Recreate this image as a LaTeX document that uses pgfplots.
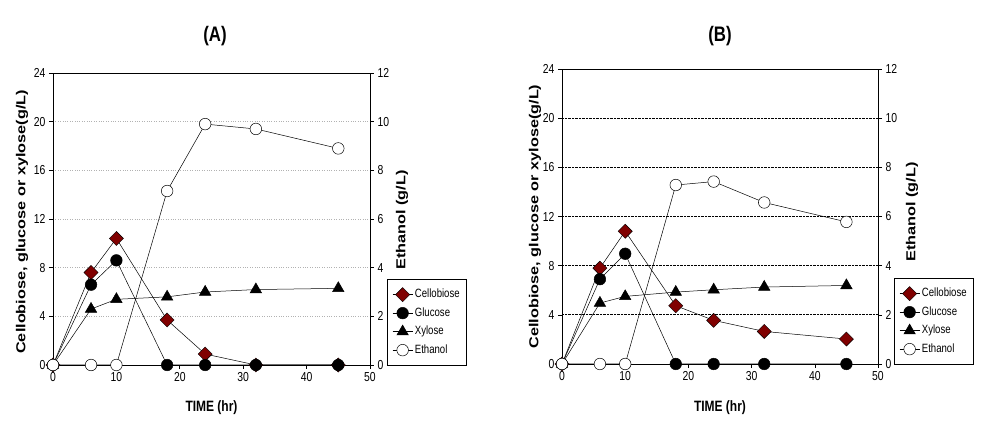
\documentclass[border=0pt]{standalone}
\usepackage{pgfplots}
\pgfplotsset{compat=1.18}
\usepackage{fontspec}
\setmainfont{Liberation Sans}
\newfontfamily\nar{Liberation Sans}[FakeStretch=0.8]
\newfontfamily\wid{Liberation Sans}[FakeStretch=1.25]
\definecolor{cello}{RGB}{128,0,0}

\pgfplotsset{
  base/.style={scale only axis, xmin=0, xmax=50, clip=false,
    tick align=outside, major tick length=4pt,
    /pgf/number format/assume math mode=true,
    tick label style={font=\nar\fontsize{13}{13}\selectfont},
    axis line style={line width=0.8pt},
    tick style={line width=0.6pt, black}},
  ser/.style={black, line width=0.5pt},
  celm/.style={ser, mark=square*, mark size=5pt, mark options={rotate=45, fill=cello, draw=black, line width=0.4pt}},
  glum/.style={ser, mark=*, mark size=5.8pt, mark options={fill=black}},
  xylm/.style={ser, mark=triangle*, mark size=6.6pt, mark options={fill=black}},
  ethm/.style={ser, mark=*, mark size=5.8pt, mark options={fill=white, draw=black}},
  leg/.style={legend cell align=left,
    legend image code/.code={\draw[mark repeat=2,mark phase=2] plot coordinates {(0pt,0pt) (10pt,0pt) (20pt,0pt)};},
    legend style={anchor=north west, draw=black, line width=0.8pt,
      font=\nar\fontsize{12}{12}\selectfont, inner xsep=5pt, inner ysep=8pt, row sep=4pt,
      nodes={inner sep=2pt, text height=8.5pt, text depth=2pt}}},
  xlab/.style={xlabel={TIME (hr)}, xlabel style={font=\nar\bfseries\fontsize{15}{15}\selectfont, anchor=center}},
  ylabL/.style={ylabel={Cellobiose, glucose or xylose(g/L)}, ylabel style={font=\wid\bfseries\fontsize{13}{13}\selectfont, anchor=center}},
  ylabR/.style={ylabel={Ethanol (g/L)}, ylabel style={font=\wid\bfseries\fontsize{13}{13}\selectfont, anchor=center}},
  ttl/.style={title style={font=\nar\bfseries\fontsize{21}{21}\selectfont, anchor=center}},
}

\begin{document}
\begin{tikzpicture}
\path[use as bounding box] (0pt,0pt) rectangle (989pt,422pt);

% ---------------- Panel A ----------------
\begin{axis}[base, at={(53pt,57pt)}, anchor=south west, width=317pt, height=292pt,
  ymin=0, ymax=24, ytick={0,4,...,24}, xtick={0,10,...,50},
  xtick pos=left, ytick pos=left,
  ymajorgrids, grid style={dotted, gray!60, line width=0.6pt},
  xlab, xlabel style={at={(axis description cs:0.5,-0.147)}},
  ylabL, ylabel style={at={(axis description cs:-0.098,0.49)}},
  ttl, title={(A)}, title style={at={(axis description cs:0.511,1.106)}}]
\addplot[xylm] coordinates {(0,0) (6,4.6) (10,5.4) (18,5.6) (24,6.0) (32,6.2) (45,6.3)};
\addplot[celm] coordinates {(0,0) (6,7.6) (10,10.4) (18,3.7) (24,0.9) (32,0) (45,0)};
\addplot[glum] coordinates {(0,0) (6,6.6) (10,8.6) (18,0) (24,0) (32,0) (45,0)};
\end{axis}
\begin{axis}[base, at={(53pt,57pt)}, anchor=south west, width=317pt, height=292pt,
  ymin=0, ymax=12, ytick={0,2,...,12}, axis y line*=right, axis x line=none,
  ylabR, ylabel style={at={(axis description cs:1.101,0.497)}},
  leg, legend style={at={(1.0536,0.2945)}}]
\addlegendimage{celm}\addlegendentry{Cellobiose}
\addlegendimage{glum}\addlegendentry{Glucose}
\addlegendimage{xylm}\addlegendentry{Xylose}
\addplot[ethm] coordinates {(0,0) (6,0) (10,0) (18,7.15) (24,9.9) (32,9.7) (45,8.9)};
\addlegendentry{Ethanol}
\end{axis}

% ---------------- Panel B ----------------
\begin{axis}[base, at={(562pt,58pt)}, anchor=south west, width=316pt, height=295pt,
  ymin=0, ymax=24, ytick={0,4,...,24}, xtick={0,10,...,50},
  xtick pos=left, ytick pos=left,
  ymajorgrids, grid style={densely dotted, black, line width=0.8pt},
  xlab, xlabel style={at={(axis description cs:0.5,-0.149)}},
  ylabL, ylabel style={at={(axis description cs:-0.085,0.5)}},
  ttl, title={(B)}, title style={at={(axis description cs:0.5,1.092)}}]
\addplot[xylm] coordinates {(0,0) (6,4.96) (10,5.5) (18,5.85) (24,6.04) (32,6.26) (45,6.39)};
\addplot[celm] coordinates {(0,0) (6,7.8) (10,10.8) (18,4.74) (24,3.55) (32,2.65) (45,2.03)};
\addplot[glum] coordinates {(0,0) (6,6.9) (10,8.97) (18,0) (24,0) (32,0) (45,0)};
\end{axis}
\begin{axis}[base, at={(562pt,58pt)}, anchor=south west, width=316pt, height=295pt,
  ymin=0, ymax=12, ytick={0,2,...,12}, axis y line*=right, axis x line=none,
  ylabR, ylabel style={at={(axis description cs:1.108,0.515)}},
  leg, legend style={at={(1.0506,0.2915)}}]
\addlegendimage{celm}\addlegendentry{Cellobiose}
\addlegendimage{glum}\addlegendentry{Glucose}
\addlegendimage{xylm}\addlegendentry{Xylose}
\addplot[ethm] coordinates {(0,0) (6,0) (10,0) (18,7.28) (24,7.42) (32,6.57) (45,5.78)};
\addlegendentry{Ethanol}
\end{axis}
\end{tikzpicture}
\end{document}
